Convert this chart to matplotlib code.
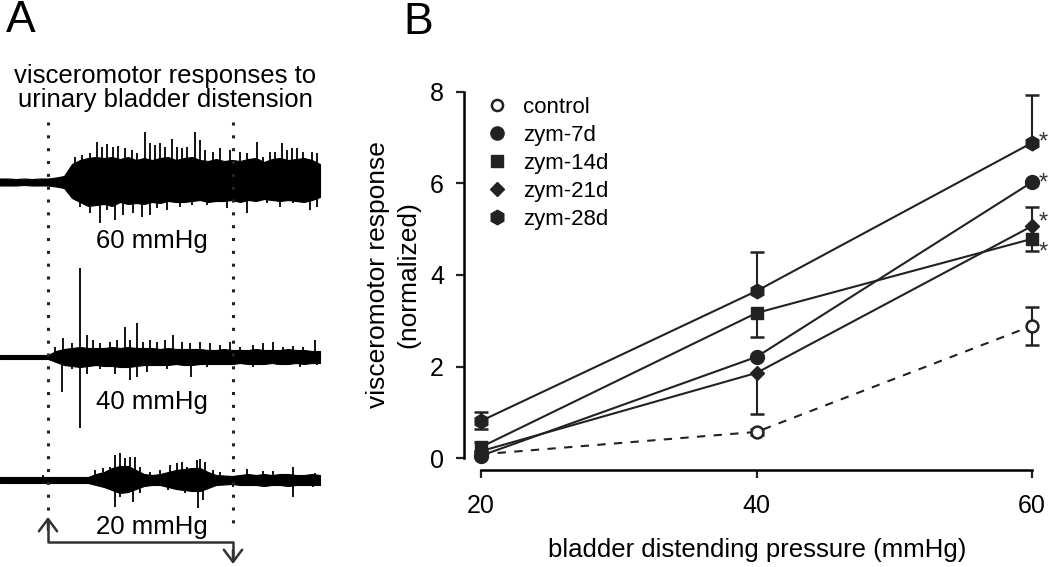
import numpy as np
import matplotlib
matplotlib.use('Agg')
import matplotlib.pyplot as plt
from matplotlib.lines import Line2D

plt.rcParams['font.family'] = ['Liberation Sans', 'DejaVu Sans']

nan = np.nan
ink = '#222222'

# =============================================================================
# Panel B data: visceromotor response vs. bladder distending pressure
# =============================================================================
pressure = [20, 40, 60]
control = [0.08, 0.57, 2.89]
zym7 = [0.05, 2.21, 6.03]
zym14 = [0.24, 3.17, 4.79]
zym21 = [0.15, 1.86, 5.07]
zym28 = [0.81, 3.65, 6.89]

# error bars (lower, upper); nan = not drawn in the figure
control_lo = [nan, 0.07, 0.42]
control_hi = [nan, 0.07, 0.42]
zym14_lo = [nan, 0.53, 0.27]
zym14_hi = [0.12, nan, nan]
zym21_lo = [nan, 0.90, nan]
zym21_hi = [nan, nan, 0.42]
zym28_lo = [0.18, nan, nan]
zym28_hi = [0.20, 0.85, 1.04]

# significance stars at 60 mmHg
star_y = [7.02, 6.12, 5.27, 4.61]

# =============================================================================
# Panel A data: EMG envelopes (0.8 s bins) and single spikes, arbitrary units
# =============================================================================
t = np.arange(41) * 0.8

up60 = [3.5, 3.5, 3, 3.5, 3, 3.5, 3.5, 4.5, 6, 18, 22, 24, 25, 24, 25, 23, 25, 22, 24, 22, 24,
        25, 22, 24, 25, 22, 21, 23, 21, 22, 21, 23, 24, 20, 23, 24, 22, 23, 24, 22, 18]
lo60 = [3.5, 3.5, 3.5, 3, 3.5, 3.5, 3.5, 4.5, 6, 16, 20, 24, 23, 22, 24, 20, 22, 21, 22, 20,
        21, 19, 20, 20, 19, 18, 20, 19, 19, 18, 20, 18, 19, 17, 18, 19, 18, 19, 20, 18, 15]
spk60_up_t = [7.5, 8.2, 9.0, 9.7, 10.2, 10.7, 11.3, 11.8, 12.5, 13.2, 13.7, 14.5, 15.0, 15.5,
              16.0, 16.5, 17.2, 17.7, 18.2, 18.7, 19.5, 20.0, 20.5, 21.3, 22.0, 23.0, 24.0,
              24.7, 25.7, 26.3, 27.0, 27.5, 28.2, 28.7, 29.2, 29.7, 30.3, 31.2, 31.7]
spk60_up = [25, 27, 29, 40, 35, 38, 35, 36, 34, 32, 29, 50, 39, 37, 39, 35, 43, 35, 34, 35,
            50, 42, 32, 30, 34, 32, 30, 29, 40, 25, 30, 30, 39, 32, 34, 34, 30, 30, 29]
spk60_dn_t = [8.0, 9.0, 10.0, 10.7, 11.5, 12.3, 13.3, 14.2, 15.0, 15.7, 16.7, 18.0, 19.2,
              20.7, 22.7, 24.7, 26.7, 28.0, 29.3, 31.0, 31.7]
spk60_dn = [25, 31, 41, 28, 38, 33, 31, 35, 33, 26, 28, 25, 23, 23, 26, 31, 21, 25, 21, 28, 25]

up40 = [2, 2, 2, 2, 2, 2, 2, 6, 8, 9, 10, 9, 9, 9, 10, 9, 10, 9, 9, 9, 8, 9,
        8, 8, 8, 8, 7, 7, 8, 7, 7, 7, 8, 7, 7, 7, 8, 7, 7, 6, 6]
lo40 = [2, 2, 2, 2, 2, 2, 2, 5, 8, 9, 10, 9, 8, 9, 9, 10, 10, 9, 8, 8, 8, 8,
        7, 8, 8, 7, 7, 7, 7, 7, 6, 7, 7, 7, 6, 7, 7, 6, 7, 6, 6]
spk40_up_t = [5.5, 6.3, 7.2, 8.0, 8.7, 9.3, 10.0, 11.0, 11.7, 12.5, 13.0, 13.7, 14.3, 15.0,
              15.7, 16.5, 17.3, 18.2, 19.0, 20.0, 21.0, 22.0, 23.0, 24.0, 25.3, 26.3, 27.3,
              28.3, 29.3, 30.3, 31.5]
spk40_up = [10, 19, 14, 89, 22, 17, 14, 15, 17, 30, 17, 34, 15, 17, 15, 17, 22, 15, 14, 15,
            14, 12, 15, 10, 12, 14, 15, 10, 11, 10, 17]
spk40_dn_t = [6.2, 7.2, 8.0, 8.7, 10.0, 11.5, 13.0, 13.7, 14.7, 16.7, 19.1, 20.7, 23.3, 25.3,
              27.7, 30.0, 31.7]
spk40_dn = [35, 12, 71, 17, 12, 17, 23, 20, 15, 12, 20, 10, 8, 10, 8, 10, 8]

up20 = [3, 3, 3, 3, 3, 3, 3, 3, 3, 3, 3, 3, 6, 8, 12, 14, 14, 10, 6,
        5, 6, 8, 10, 11, 12, 12, 8, 5, 4.5, 4, 5, 6, 5, 6, 5, 6, 6, 5, 5, 6, 5]
lo20 = [3, 3, 3, 3, 3, 3, 3, 3, 3, 3, 3, 3, 5, 7, 10, 13, 12, 9, 6,
        5, 5, 7, 9, 10, 11, 11, 8, 5, 4.5, 4, 5, 5, 5, 6, 5, 5, 6, 5, 5, 5, 5]
spk20_up_t = [4.3, 9.5, 10.3, 11.0, 11.5, 12.0, 12.5, 13.0, 13.5, 14.0, 15.0, 16.0, 17.0,
              17.7, 18.2, 18.7, 19.7, 20.0, 20.5, 21.3, 22.0, 24.7, 26.3, 27.3, 29.3, 31.5]
spk20_up = [5, 10, 12, 13, 25, 27, 22, 23, 23, 13, 8, 10, 15, 17, 18, 13, 20, 21, 18, 10, 8,
            11, 9, 9, 13, 7]
spk20_dn_t = [11.5, 12.0, 13.3, 14.0, 16.8, 18.5, 19.8, 20.3, 23.3, 29.3, 31.3]
spk20_dn = [27, 17, 22, 13, 10, 13, 28, 20, 7, 17, 7]

stim_on, stim_off = 4.8, 23.3

fig = plt.figure(figsize=(10.5, 5.67), dpi=100)

# =============================================================================
# Panel A
# =============================================================================
axa = fig.add_axes([0, 0, 330 / 1050, 1])
axa.set_xlim(0, 33)
axa.set_ylim(567, 0)
axa.axis('off')

traces = [
    (182, up60, lo60, spk60_up_t, spk60_up, spk60_dn_t, spk60_dn, '60 mmHg', 241),
    (357, up40, lo40, spk40_up_t, spk40_up, spk40_dn_t, spk40_dn, '40 mmHg', 402),
    (480, up20, lo20, spk20_up_t, spk20_up, spk20_dn_t, spk20_dn, '20 mmHg', 527),
]
for base, up, lo, ut, us, dt, ds, lab, ly in traces:
    axa.fill_between(t, base - np.array(up), base + np.array(lo), color='black', lw=0.8)
    axa.vlines(ut, base, base - np.array(us), color='black', lw=1.3)
    axa.vlines(dt, base, base + np.array(ds), color='black', lw=1.3)
    axa.text(15.2, ly, lab, ha='center', va='center', fontsize=18.5)

for xs in (stim_on, stim_off):
    axa.plot([xs, xs], [122, 528], color='#222222', lw=2.2, ls=(0, (1, 3.2)))

axa.plot([stim_on, stim_on, stim_off, stim_off], [522, 542, 542, 560], color='#333333', lw=1.8)
arrow = dict(arrowstyle='->, head_length=0.4, head_width=0.3', lw=1.8, color='#333333',
             mutation_scale=22, shrinkA=0, shrinkB=0)
axa.annotate('', xy=(stim_on, 517), xytext=(stim_on, 530), arrowprops=arrow)
axa.annotate('', xy=(stim_off, 564), xytext=(stim_off, 550), arrowprops=arrow)

axa.text(16.5, 88, 'visceromotor responses to\nurinary bladder distension',
         ha='center', va='center', fontsize=18.5, linespacing=1.05)

fig.text(21 / 1050, 1 - 21 / 567, 'A', ha='center', va='center', fontsize=32)
fig.text(418 / 1050, 1 - 22 / 567, 'B', ha='center', va='center', fontsize=32)

# =============================================================================
# Panel B
# =============================================================================
axb = fig.add_axes([470 / 1050, 102 / 567, 575 / 1050, 380 / 567])
axb.set_xlim(19.2, 60.94)
axb.set_ylim(-0.153, 8.153)


def draw_err(vals, lo, hi):
    v = np.array(vals)
    lo = np.array(lo)
    hi = np.array(hi)
    axb.vlines(pressure, v - np.nan_to_num(lo), v + np.nan_to_num(hi), color=ink, lw=1.5, zorder=2)
    axb.plot(pressure, v - lo, ls='none', marker='_', ms=9.5, mew=1.8, color=ink, zorder=2)
    axb.plot(pressure, v + hi, ls='none', marker='_', ms=9.5, mew=1.8, color=ink, zorder=2)


draw_err(control, control_lo, control_hi)
draw_err(zym14, zym14_lo, zym14_hi)
draw_err(zym21, zym21_lo, zym21_hi)
draw_err(zym28, zym28_lo, zym28_hi)

axb.plot(pressure, control, color=ink, lw=1.5, ls=(0, (4, 4)), marker='o', ms=8.5,
         mfc='white', mec=ink, mew=1.8, zorder=3)
axb.plot(pressure, zym7, color=ink, lw=1.5, marker='o', ms=10, mfc=ink, mec=ink, zorder=3)
axb.plot(pressure, zym14, color=ink, lw=1.5, marker='s', ms=8.5, mfc=ink, mec=ink, zorder=3)
axb.plot(pressure, zym21, color=ink, lw=1.5, marker='D', ms=7.5, mfc=ink, mec=ink, zorder=3)
axb.plot(pressure, zym28, color=ink, lw=1.5, marker='h', ms=10.5, mfc=ink, mec=ink, zorder=3)

for y in star_y:
    axb.annotate('*', xy=(60, y), xytext=(5, -4), textcoords='offset points',
                 ha='left', va='center', fontsize=17, color='#333333')

handles = [
    Line2D([], [], ls='none', marker='o', ms=8, mfc='white', mec=ink, mew=1.8),
    Line2D([], [], ls='none', marker='o', ms=9.5, mfc=ink, mec=ink),
    Line2D([], [], ls='none', marker='s', ms=8.5, mfc=ink, mec=ink),
    Line2D([], [], ls='none', marker='D', ms=7.5, mfc=ink, mec=ink),
    Line2D([], [], ls='none', marker='h', ms=10.5, mfc=ink, mec=ink),
]
axb.legend(handles, ['control', 'zym-7d', 'zym-14d', 'zym-21d', 'zym-28d'],
           loc='upper left', bbox_to_anchor=(486 / 1050, 1 - 97 / 567),
           bbox_transform=fig.transFigure, frameon=False, fontsize=16,
           handlelength=1.0, handletextpad=0.68, labelspacing=0.31,
           borderpad=0, borderaxespad=0)

for s in ('top', 'right'):
    axb.spines[s].set_visible(False)
axb.spines['left'].set_position(('outward', 4.3))
axb.spines['bottom'].set_position(('outward', 3.6))
axb.spines['left'].set_bounds(0, 8)
axb.spines['bottom'].set_bounds(20, 60)
axb.spines['left'].set_linewidth(1.8)
axb.spines['bottom'].set_linewidth(1.8)
axb.set_xticks([20, 40, 60])
axb.set_yticks([0, 2, 4, 6, 8])
axb.tick_params(width=1.6, length=5.5, labelsize=18, color=ink)
axb.tick_params(axis='y', pad=9)
axb.tick_params(axis='x', pad=12)

axb.set_ylabel('visceromotor response\n(normalized)', fontsize=19, linespacing=1.35, va='center')
axb.yaxis.set_label_coords(-0.134, 0.5)
axb.set_xlabel('bladder distending pressure (mmHg)', fontsize=18.5, va='center')
axb.xaxis.set_label_coords(0.499, -0.224)

fig.savefig('out.png', dpi=100)
